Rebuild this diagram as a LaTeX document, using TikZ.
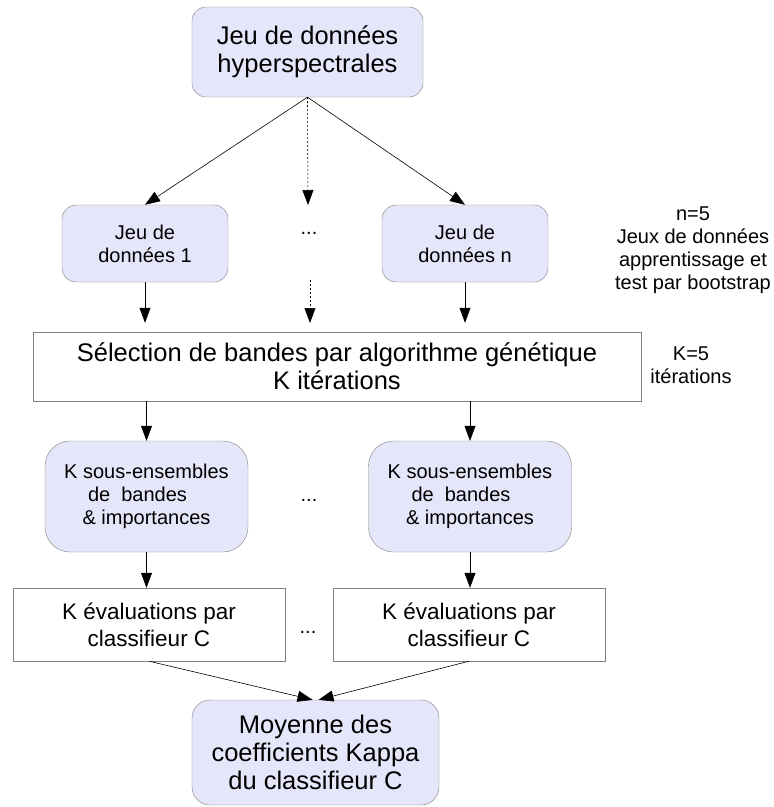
\documentclass[tikz,border=0pt]{standalone}
\usepackage{fontspec}
\setmainfont{Liberation Sans}
\usetikzlibrary{arrows.meta}
\definecolor{boxfill}{RGB}{230,230,250}
\definecolor{boxline}{RGB}{128,128,128}

\begin{document}
\begin{tikzpicture}[x=1pt,y=-1pt,
  roundbox/.style={draw=boxline,fill=boxfill,rounded corners=14pt,align=center,inner sep=0pt},
  flatbox/.style={draw=boxline,fill=white,align=center,inner sep=0pt},
  arr/.style={-{Triangle[length=15pt,width=11pt]},line width=0.6pt},
  dotarr/.style={arr,dash pattern=on 2pt off 2pt},
  bigtext/.style={font=\fontsize{25.5}{28}\selectfont},
  smalltext/.style={font=\fontsize{20}{23}\selectfont},
  midtext/.style={font=\fontsize{22.5}{27}\selectfont}]

  \useasboundingbox (0,0) rectangle (774,807);

  % data sets
  \node[roundbox,bigtext,minimum width=231pt,minimum height=90pt] (data) at (307.5,52) {Jeu de données\\hyperspectrales};
  \node[roundbox,smalltext,minimum width=166pt,minimum height=77pt] (set1) at (145,243.5) {Jeu de\\données 1};
  \node[roundbox,smalltext,minimum width=166pt,minimum height=77pt] (setn) at (465,243.5) {Jeu de\\données n};
  \node[smalltext] (dotsa) at (309,233) {...};
  \node[smalltext,align=center] (noten) at (693,250) {n=5\\Jeux de données\\apprentissage et\\test par bootstrap};

  % selection
  \node[flatbox,bigtext,minimum width=608pt,minimum height=69pt] (ga) at (337,366.5) {Sélection de bandes par algorithme génétique\\K itérations};
  \node[smalltext,align=center] (notek) at (691,365) {K=5\\itérations};

  \node[roundbox,smalltext,rounded corners=25pt,minimum width=203pt,minimum height=111pt] (sub1) at (146.5,496.5) {K sous-ensembles\\de\ \ bandes\hspace{18pt}\mbox{}\\\& importances};
  \node[roundbox,smalltext,rounded corners=25pt,minimum width=203pt,minimum height=111pt] (subk) at (470,496.5) {K sous-ensembles\\de\ \ bandes\hspace{18pt}\mbox{}\\\& importances};
  \node[smalltext] (dotsb) at (309,500) {...};

  % evaluation
  \node[flatbox,midtext,minimum width=272pt,minimum height=73pt] (eval1) at (149,624.5) {K évaluations par\\classifieur C};
  \node[flatbox,midtext,minimum width=272pt,minimum height=73pt] (evalk) at (469,624.5) {K évaluations par\\classifieur C};
  \node[smalltext] (dotsc) at (308,632) {...};

  \node[roundbox,bigtext,rounded corners=18pt,minimum width=247pt,minimum height=105pt] (mean) at (315.5,752.5) {Moyenne des\\coefficients Kappa\\du classifieur C};

  \coordinate (dtop) at (308,205);
  \coordinate (dbot) at (310,280);
  \coordinate (dend) at (310,332);

  % arrows
  \draw[arr] (data.south) -- (set1.north);
  \draw[arr] (data.south) -- (setn.north);
  \draw[dotarr] (data.south) -- (dtop);

  \draw[arr,shorten >=9pt] (set1.south) -- (set1.south |- ga.north);
  \draw[dotarr,shorten >=9pt] (dbot) -- (dend);
  \draw[arr,shorten >=9pt] (setn.south) -- (setn.south |- ga.north);

  \draw[arr] (sub1.north |- ga.south) -- (sub1.north);
  \draw[arr] (subk.north |- ga.south) -- (subk.north);
  \draw[arr] (sub1.south) -- (sub1.south |- eval1.north);
  \draw[arr] (subk.south) -- (subk.south |- evalk.north);

  \draw[arr] (eval1.south) -- ([xshift=-3pt]mean.north);
  \draw[arr] (evalk.south) -- ([xshift=3pt]mean.north);

\end{tikzpicture}
\end{document}
